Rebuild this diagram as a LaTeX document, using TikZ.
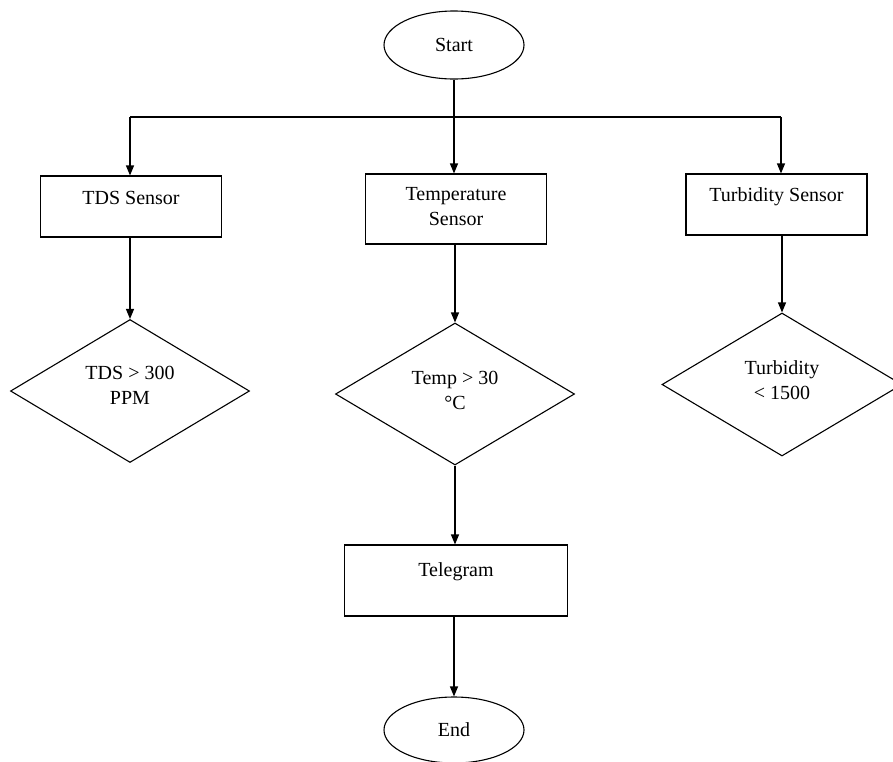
\documentclass[tikz,border=0pt]{standalone}
\usepackage{fontspec}
\setmainfont{Liberation Serif}
\usetikzlibrary{shapes.geometric,arrows.meta}
\begin{document}
\begin{tikzpicture}[x=1pt,y=-1pt,line width=1.1pt,
  every node/.style={font=\fontsize{20}{25}\selectfont},
  term/.style={draw,ellipse,minimum width=140pt,minimum height=68pt,inner sep=0pt},
  procbox/.style={draw,rectangle,inner sep=0pt},
  decide/.style={draw,diamond,inner sep=0pt,minimum width=239pt,minimum height=143pt},
  txt/.style={align=center,inner sep=0pt},
  arr/.style={-{Triangle[length=10pt,width=8pt]}}]
\useasboundingbox (0,0) rectangle (893,761);
% terminals
\node[term] (start) at (454,45) {Start};
\node[term,minimum height=66pt] (end) at (454,730) {End};
% boxes
\node[procbox,minimum width=181pt,minimum height=61pt] (tds) at (131,206.5) {};
\node[txt] at (131,198) {TDS Sensor};
\node[procbox,minimum width=181pt,minimum height=70pt] (temp) at (456,209) {};
\node[txt] at (456,207) {Temperature\\Sensor};
\node[procbox,minimum width=181pt,minimum height=61pt] (turb) at (776.5,204.5) {};
\node[txt] at (776.5,197) {Turbidity Sensor};
\node[procbox,minimum width=223pt,minimum height=71pt] (tele) at (456,580.5) {};
\node[txt] at (456,572) {Telegram};
% diamonds
\node[decide] (d1) at (130,391) {};
\node[txt] at (130,385.5) {TDS > 300\\PPM};
\node[decide,minimum height=142pt] (d2) at (455,394) {};
\node[txt] at (455,390) {Temp > 30\\°C};
\node[decide,minimum width=240pt] (d3) at (782,384.5) {};
\node[txt] at (782,380) {Turbidity\\< 1500};
% connectors
\coordinate (hub) at (454,117);
\coordinate (lt) at (130,117);
\coordinate (rt) at (781,117);
\draw (lt) -- (rt);
\draw[arr] (start.south) -- (start.south |- temp.north);
\draw[arr] (lt) -- (lt |- tds.north);
\draw[arr] (rt) -- (rt |- turb.north);
\draw[arr] (d1.north |- tds.south) -- (d1.north);
\draw[arr] (d2.north |- temp.south) -- (d2.north);
\draw[arr] (d3.north |- turb.south) -- (d3.north);
\draw[arr] (d2.south) -- (d2.south |- tele.north);
\draw[arr] (end.north |- tele.south) -- (end.north);
\end{tikzpicture}
\end{document}
